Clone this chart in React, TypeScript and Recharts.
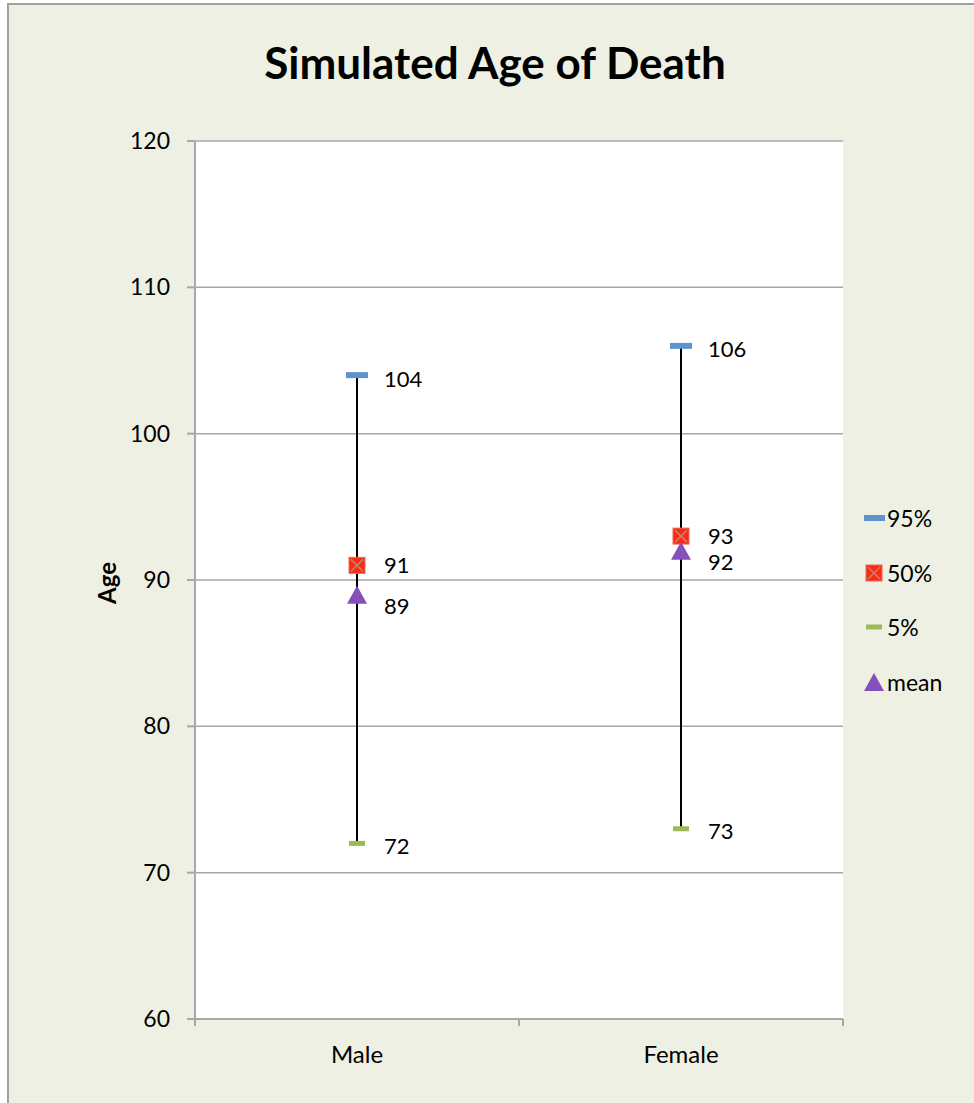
import { ScatterChart, Scatter, XAxis, YAxis, CartesianGrid, Legend } from "recharts";

const categories = ["Male", "Female"];
const p95 = [104, 106];
const p50 = [91, 93];
const p5 = [72, 73];
const mean = [89, 92];
const yTicks = [60, 70, 80, 90, 100, 110, 120];
const xTicks = [0, 0.5, 1, 1.5, 2];
const seriesNames = ["95%", "50%", "5%", "mean"];

const font = "Lato, 'Open Sans', sans-serif";
const blue = "#5F93CF";
const red = "#FA2B12";
const green = "#9BBB59";
const purple = "#8450BA";
const gridColor = "#A8A8A8";

const toPoints = (vals: number[]) => vals.map((y, i) => ({ x: i + 0.5, y }));

function Marker({ kind, cx, cy }: { kind: string; cx: number; cy: number }) {
  if (kind === "95%") return <rect x={cx - 11} y={cy - 3} width={22} height={6} fill={blue} />;
  if (kind === "5%") return <rect x={cx - 8} y={cy - 2.5} width={16} height={5} fill={green} />;
  if (kind === "50%")
    return (
      <g>
        <rect x={cx - 8} y={cy - 8} width={16} height={16} fill={red} stroke="#F06A58" strokeWidth={1} />
        <line x1={cx - 6} y1={cy - 6} x2={cx + 6} y2={cy + 6} stroke="#C9806F" strokeWidth={1.5} />
        <line x1={cx + 6} y1={cy - 6} x2={cx - 6} y2={cy + 6} stroke="#C9806F" strokeWidth={1.5} />
      </g>
    );
  return <path d={`M${cx},${cy - 9} L${cx + 10},${cy + 9} L${cx - 10},${cy + 9} Z`} fill={purple} />;
}

// marker plus its value label, set to the right of the point
const pointShape = (kind: string, dy: number) => (props: any) => {
  const { cx, cy, payload } = props;
  return (
    <g>
      <Marker kind={kind} cx={cx} cy={cy} />
      <text x={cx + 27} y={cy + dy} dominantBaseline="central" fontSize={22} fill="#000" fontFamily={font}>
        {payload.y}
      </text>
    </g>
  );
};

// tick marks sit on the category edges, names in the middle of each band
function XTick(props: any) {
  const { x, y, payload } = props;
  const v = payload.value;
  if (Number.isInteger(v)) {
    return <line x1={x} y1={y} x2={x} y2={y + 7} stroke={gridColor} strokeWidth={2} />;
  }
  return (
    <text x={x} y={y + 44} textAnchor="middle" fontSize={24} fill="#000" fontFamily={font}>
      {categories[Math.floor(v)]}
    </text>
  );
}

function LegendBox() {
  return (
    <div style={{ fontFamily: font, fontSize: 23, color: "#000" }}>
      {seriesNames.map((name) => (
        <div key={name} style={{ display: "flex", alignItems: "center", height: 54.5 }}>
          <svg width={22} height={22} style={{ marginRight: 1 }}>
            <Marker kind={name} cx={10} cy={11} />
          </svg>
          <span>{name}</span>
        </div>
      ))}
    </div>
  );
}

export default function App() {
  return (
    <div style={{ position: "relative", width: 974, height: 1103, background: "#fff", fontFamily: font }}>
      <style>{"body{margin:0}"}</style>
      <div
        style={{
          position: "absolute",
          left: 7,
          top: 3,
          width: 967,
          height: 1100,
          background: "#EDF0E3",
          borderLeft: "2px solid #A0A0A0",
          borderTop: "2px solid #A0A0A0",
          boxSizing: "border-box",
        }}
      />
      <div
        style={{
          position: "absolute",
          left: 0,
          top: 37,
          width: 990,
          textAlign: "center",
          fontWeight: 700,
          fontSize: 44,
          lineHeight: "50px",
          color: "#000",
        }}
      >
        Simulated Age of Death
      </div>
      <div style={{ position: "absolute", left: 0, top: 0 }}>
        <ScatterChart width={974} height={1103} margin={{ top: 141, right: 21, bottom: 24, left: 70 }}>
          <CartesianGrid vertical={false} stroke={gridColor} strokeWidth={1.5} fill="#fff" />
          <XAxis
            type="number"
            dataKey="x"
            domain={[0, 2]}
            ticks={xTicks}
            tick={<XTick />}
            tickLine={false}
            tickSize={0}
            tickMargin={0}
            height={60}
            axisLine={{ stroke: gridColor, strokeWidth: 2 }}
            interval={0}
          />
          <YAxis
            type="number"
            dataKey="y"
            domain={[60, 120]}
            ticks={yTicks}
            width={125}
            tickSize={8}
            tickMargin={17}
            interval={0}
            tick={{ fill: "#000", fontSize: 23, fontFamily: font }}
            tickLine={{ stroke: gridColor, strokeWidth: 2 }}
            axisLine={{ stroke: gridColor, strokeWidth: 2 }}
            label={{
              content: (p: any) => {
                const vb = p.viewBox;
                const cx = vb.x + 36;
                const cy = vb.y + vb.height / 2 + 3;
                return (
                  <text
                    x={cx}
                    y={cy}
                    transform={`rotate(-90 ${cx} ${cy})`}
                    textAnchor="middle"
                    dominantBaseline="central"
                    fontWeight={700}
                    fontSize={24}
                    fill="#000"
                    fontFamily={font}
                  >
                    Age
                  </text>
                );
              },
            }}
          />
          {categories.map((c, i) => (
            <Scatter
              key={c}
              data={[
                { x: i + 0.5, y: p5[i] },
                { x: i + 0.5, y: p95[i] },
              ]}
              line={{ stroke: "#000", strokeWidth: 2 }}
              shape={() => <g />}
              legendType="none"
              isAnimationActive={false}
            />
          ))}
          <Scatter name="95%" data={toPoints(p95)} shape={pointShape("95%", 3)} isAnimationActive={false} />
          <Scatter name="5%" data={toPoints(p5)} shape={pointShape("5%", 2)} isAnimationActive={false} />
          <Scatter name="50%" data={toPoints(p50)} shape={pointShape("50%", -1)} isAnimationActive={false} />
          <Scatter name="mean" data={toPoints(mean)} shape={pointShape("mean", 11)} isAnimationActive={false} />
          <Legend
            content={<LegendBox />}
            layout="vertical"
            align="right"
            verticalAlign="top"
            wrapperStyle={{ left: 864, top: 491, width: 110 }}
          />
        </ScatterChart>
      </div>
    </div>
  );
}
